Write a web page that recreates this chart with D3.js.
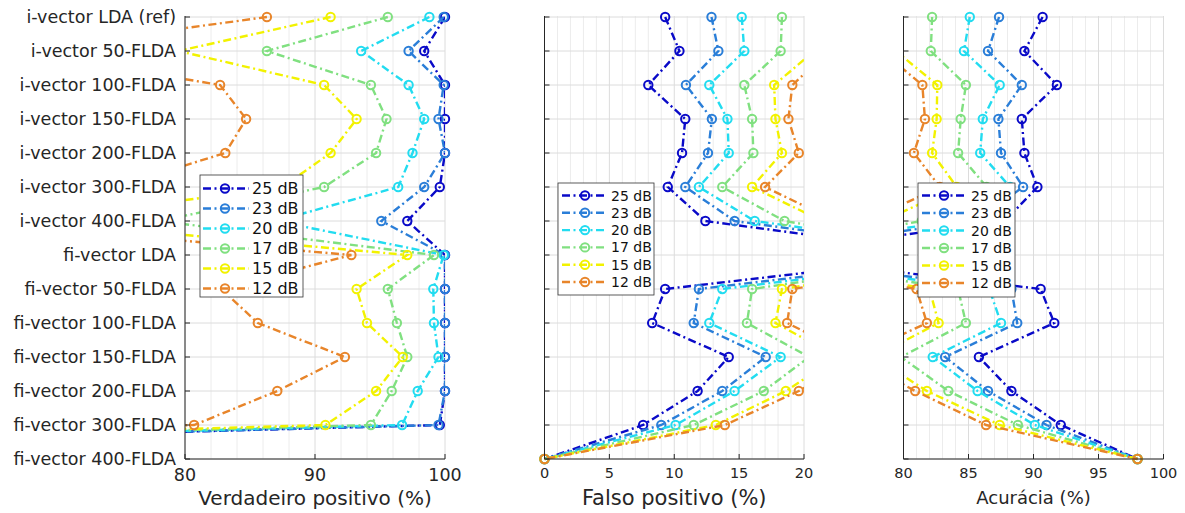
<!DOCTYPE html>
<html>
<head>
<meta charset="utf-8">
<script src="https://cdn.jsdelivr.net/npm/d3@7"></script>
<style>
  html, body { margin: 0; padding: 0; background: #fff; }
  svg { display: block; font-family: "DejaVu Sans", sans-serif; }
</style>
</head>
<body>
<svg id="chart" width="1185" height="513"></svg>
<script>
// ---------------- data ----------------
const categories = [
  "i-vector LDA (ref)", "i-vector 50-FLDA", "i-vector 100-FLDA", "i-vector 150-FLDA",
  "i-vector 200-FLDA", "i-vector 300-FLDA", "i-vector 400-FLDA", "fi-vector LDA",
  "fi-vector 50-FLDA", "fi-vector 100-FLDA", "fi-vector 150-FLDA", "fi-vector 200-FLDA",
  "fi-vector 300-FLDA", "fi-vector 400-FLDA"
];
const seriesLabels = ["25 dB", "23 dB", "20 dB", "17 dB", "15 dB", "12 dB"];
const seriesColors = ["#0a0ac8", "#2a7ed8", "#22dcf0", "#80e080", "#f2f200", "#e8852a"];

// Verdadeiro positivo (%) - one list per series
const tp25 = [100, 98.4, 100, 100, 100, 99.6, 97.1, 100, 100, 100, 100, 100, 99.6, 0];
const tp23 = [99.9, 97.2, 99.9, 99.5, 100, 98.4, 95.1, 100, 100, 100, 100, 100, 99.5, 0];
const tp20 = [98.8, 93.55, 97.2, 98.4, 97.5, 96.4, 87.0, 99.9, 99.1, 99.15, 99.5, 97.9, 96.7, 0];
const tp17 = [95.6, 86.3, 94.3, 95.5, 94.7, 90.7, 78.0, 99.15, 95.6, 96.3, 97.1, 95.9, 94.3, 0];
const tp15 = [91.2, 79.5, 90.7, 93.2, 91.2, 87.5, 68.0, 97.1, 93.2, 94.0, 96.75, 94.7, 90.8, 0];
const tp12 = [86.3, 67.0, 82.7, 84.7, 83.1, 74.6, 62.0, 92.8, 82.8, 85.6, 92.3, 87.1, 80.7, 0];

// Falso positivo (%)
const fp25 = [9.3, 10.4, 8.0, 10.85, 10.6, 9.5, 12.4, 32, 9.3, 8.3, 14.2, 11.8, 7.6, 0];
const fp23 = [12.87, 13.4, 10.9, 12.9, 12.6, 10.85, 14.65, 34, 11.9, 11.5, 17.05, 13.7, 9.0, 0];
const fp20 = [15.2, 15.4, 12.7, 14.1, 14.2, 11.9, 16.2, 35, 13.7, 12.7, 18.2, 14.65, 10.1, 0];
const fp17 = [18.3, 18.2, 15.4, 16.0, 16.1, 13.7, 18.5, 34, 16.0, 15.6, 20.4, 16.9, 11.5, 0];
const fp15 = [22, 20.8, 17.7, 17.8, 18.3, 16.0, 21.4, 35, 18.3, 17.8, 22.6, 18.6, 13.2, 0];
const fp12 = [24, 21.9, 19.1, 18.8, 19.6, 17.0, 22.4, 36, 19.1, 18.7, 24.0, 19.6, 13.9, 0];

// Acurácia (%)
const acc25 = [90.7, 89.3, 91.8, 89.1, 89.3, 90.3, 87.8, 68.6, 90.55, 91.6, 85.8, 88.3, 92.1, 98];
const acc23 = [87.35, 86.5, 89.1, 87.3, 87.5, 89.2, 85.5, 66.7, 88.3, 88.75, 83.2, 86.5, 91.0, 98];
const acc20 = [85.1, 84.65, 87.4, 86.1, 85.9, 88.2, 83.9, 65.7, 86.6, 87.5, 82.25, 85.7, 90.1, 98];
const acc17 = [82.2, 82.1, 84.8, 84.4, 84.2, 86.4, 81.4, 66.7, 84.2, 84.8, 79.8, 83.45, 88.8, 98];
const acc15 = [78.3, 79.4, 82.6, 82.55, 82.2, 84.1, 78.4, 65.6, 82.0, 82.7, 77.7, 81.8, 87.4, 98];
const acc12 = [76.2, 78.3, 81.45, 81.65, 80.8, 82.8, 77.2, 64.6, 81.0, 81.8, 76.2, 80.9, 86.35, 98];

const tpTicks = [80, 90, 100];
const fpTicks = [0, 5, 10, 15, 20];
const accTicks = [80, 85, 90, 95, 100];

// ---------------- layout ----------------
const svg = d3.select("#chart");
const plotTop = 17, plotBottom = 459;
const y = d3.scalePoint().domain(categories).range([plotTop, plotBottom]).padding(0);
const axisColor = "#262626";

const panels = [
  { series: [tp25, tp23, tp20, tp17, tp15, tp12], domain: [80, 100], range: [185, 445],
    ticks: tpTicks, minor: 2, title: "Verdadeiro positivo (%)", yLabels: true,
    tickFont: 17.5, titleFont: 20, titleY: 505, tickY: 481,
    legend: { x: 200, y: 175, w: 103, h: 122, first: 188.5, step: 20, s0: 203, s1: 249, m: 225, tx: 252, font: 16 } },
  { series: [fp25, fp23, fp20, fp17, fp15, fp12], domain: [0, 20], range: [544.5, 804],
    ticks: fpTicks, minor: 1, title: "Falso positivo (%)", yLabels: false,
    tickFont: 14.5, titleFont: 21, titleY: 505, tickY: 478,
    legend: { x: 558, y: 183, w: 96, h: 112, first: 195.5, step: 17.3, s0: 562, s1: 607, m: 585, tx: 611, font: 14 } },
  { series: [acc25, acc23, acc20, acc17, acc15, acc12], domain: [80, 100], range: [903.5, 1163.5],
    ticks: accTicks, minor: 1, title: "Acurácia (%)", yLabels: false,
    tickFont: 14.5, titleFont: 18, titleY: 504, tickY: 478,
    legend: { x: 918, y: 183, w: 97, h: 114, first: 195.5, step: 17.5, s0: 922, s1: 966, m: 944, tx: 971, font: 14 } }
];

const dash = "8,3.5,2,3.5";
const lw = 2.4, mr = 4.2, mw = 2;

panels.forEach((p, pi) => {
  const x = d3.scaleLinear().domain(p.domain).range(p.range);
  const g = svg.append("g");
  const [x0, x1] = p.range;

  // minor grid
  const minorVals = d3.range(p.domain[0], p.domain[1] + 1e-9, p.minor)
    .filter(v => !p.ticks.some(t => Math.abs(t - v) < 1e-9));
  g.append("g").selectAll("line").data(minorVals).join("line")
    .attr("x1", d => x(d)).attr("x2", d => x(d))
    .attr("y1", plotTop - 1).attr("y2", plotBottom)
    .attr("stroke", "#ececec").attr("stroke-width", 1);
  // major grid
  g.append("g").selectAll("line").data(p.ticks).join("line")
    .attr("x1", d => x(d)).attr("x2", d => x(d))
    .attr("y1", plotTop - 1).attr("y2", plotBottom)
    .attr("stroke", "#dcdcdc").attr("stroke-width", 1);
  g.append("g").selectAll("line").data(categories).join("line")
    .attr("x1", x0).attr("x2", x1)
    .attr("y1", d => y(d)).attr("y2", d => y(d))
    .attr("stroke", "#dcdcdc").attr("stroke-width", 1);

  // clip for lines
  const clipId = "clip" + pi;
  svg.append("defs").append("clipPath").attr("id", clipId)
    .append("rect").attr("x", x0).attr("y", 0).attr("width", x1 - x0).attr("height", 513);

  const line = d3.line().x(d => x(d.v)).y(d => y(d.c));
  const [lo, hi] = p.domain;

  p.series.forEach((vals, si) => {
    const pts = vals.map((v, i) => ({ v, c: categories[i] }));
    const col = seriesColors[si];
    g.append("path").datum(pts)
      .attr("d", line)
      .attr("clip-path", `url(#${clipId})`)
      .attr("fill", "none").attr("stroke", col).attr("stroke-width", lw)
      .attr("stroke-dasharray", dash);
    g.append("g").selectAll("circle")
      .data(pts.filter(d => d.v >= lo - 1e-9 && d.v <= hi + 1e-9))
      .join("circle")
      .attr("cx", d => x(d.v)).attr("cy", d => y(d.c)).attr("r", mr)
      .attr("fill", "none").attr("stroke", col).attr("stroke-width", mw);
  });

  // axes
  g.append("line").attr("x1", x0).attr("x2", x0).attr("y1", plotTop - 1).attr("y2", plotBottom)
    .attr("stroke", axisColor).attr("stroke-width", 1);
  g.append("line").attr("x1", x0).attr("x2", x1).attr("y1", plotBottom).attr("y2", plotBottom)
    .attr("stroke", axisColor).attr("stroke-width", 1);
  g.append("g").selectAll("line").data(categories).join("line")
    .attr("x1", x0).attr("x2", x0 + 5).attr("y1", d => y(d)).attr("y2", d => y(d))
    .attr("stroke", axisColor).attr("stroke-width", 1);
  g.append("g").selectAll("line").data(p.ticks).join("line")
    .attr("x1", d => x(d)).attr("x2", d => x(d)).attr("y1", plotBottom).attr("y2", plotBottom - 5)
    .attr("stroke", axisColor).attr("stroke-width", 1);

  g.append("g").selectAll("text").data(p.ticks).join("text")
    .attr("x", d => x(d)).attr("y", p.tickY)
    .attr("text-anchor", "middle").attr("font-size", p.tickFont).attr("fill", axisColor)
    .text(d => d);

  if (p.yLabels) {
    g.append("g").selectAll("text").data(categories).join("text")
      .attr("x", x0 - 9).attr("y", d => y(d)).attr("dy", "0.36em")
      .attr("text-anchor", "end").attr("font-size", 17.5).attr("fill", axisColor)
      .text(d => d);
  }

  g.append("text").attr("x", (x0 + x1) / 2).attr("y", p.titleY)
    .attr("text-anchor", "middle").attr("font-size", p.titleFont).attr("fill", axisColor)
    .text(p.title);

  // legend
  const L = p.legend;
  const lg = svg.append("g");
  lg.append("rect").attr("x", L.x).attr("y", L.y).attr("width", L.w).attr("height", L.h)
    .attr("fill", "#fff").attr("stroke", "#333").attr("stroke-width", 0.8);
  seriesLabels.forEach((lab, si) => {
    const yy = L.first + si * L.step;
    const col = seriesColors[si];
    lg.append("line").attr("x1", L.s0).attr("x2", L.s1).attr("y1", yy).attr("y2", yy)
      .attr("stroke", col).attr("stroke-width", lw).attr("stroke-dasharray", dash);
    lg.append("circle").attr("cx", L.m).attr("cy", yy).attr("r", mr)
      .attr("fill", "none").attr("stroke", col).attr("stroke-width", mw);
    lg.append("text").attr("x", L.tx).attr("y", yy).attr("dy", "0.36em")
      .attr("font-size", L.font).attr("fill", "#111").text(lab);
  });
});
</script>
</body>
</html>
